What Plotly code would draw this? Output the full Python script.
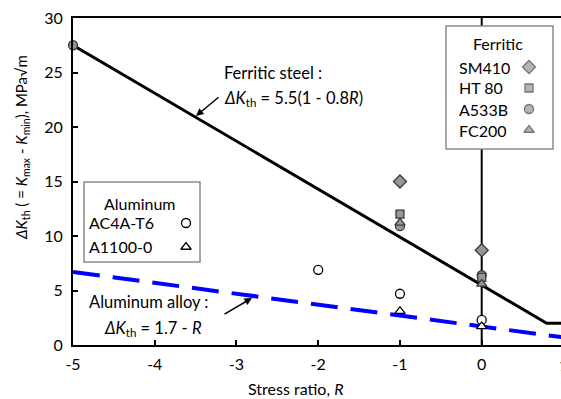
import plotly.graph_objects as go

# ---- data ----
sm410_R = [-1, 0]
sm410_K = [15.0, 8.7]
ht80_R = [-1, 0]
ht80_K = [12.0, 6.2]
a533b_R = [-5, -1, 0]
a533b_K = [27.5, 10.9, 6.4]
fc200_R = [-1, 0]
fc200_K = [11.2, 5.6]
ac4a_R = [-2, -1, 0]
ac4a_K = [6.9, 4.7, 2.3]
a1100_R = [-1, 0]
a1100_K = [3.1, 1.7]

# fitted lines (endpoints)
ferritic_line_R = [-5, 0.795, 1.0]
ferritic_line_K = [27.5, 2.0, 2.0]
alum_line_R = [-5, 1.0]
alum_line_K = [6.7, 0.7]

x_ticks = [-5, -4, -3, -2, -1, 0]
x_tick_labels = ["-5", "-4", "-3", "-2", "-1", "0"]
y_ticks = [0, 5, 10, 15, 20, 25, 30]

FONT = "Lato, sans-serif"
GRAY = "#969696"
EDGE = "#3a3a3a"

W, H = 561, 399
L, T, B = 73, 18, 54
X0, X1 = 73, 561
Y0, Y1 = 345, 18

def px_x(p):
    return (p - X0) / (X1 - X0)

def px_y(p):
    return (Y0 - p) / (Y0 - Y1)

fig = go.Figure()

fig.add_trace(go.Scatter(x=ferritic_line_R, y=ferritic_line_K, mode="lines",
                         line=dict(color="black", width=3), showlegend=False, hoverinfo="skip"))
fig.add_trace(go.Scatter(x=alum_line_R, y=alum_line_K, mode="lines",
                         line=dict(color="#0000ff", width=4, dash="27px,13px"),
                         showlegend=False, hoverinfo="skip"))

def pts(xs, ys, symbol, size, fill, edge, name):
    return go.Scatter(x=xs, y=ys, mode="markers", name=name, showlegend=False,
                      cliponaxis=False,
                      marker=dict(symbol=symbol, size=size, color=fill,
                                  line=dict(color=edge, width=1.3)))

fig.add_trace(pts(a533b_R, a533b_K, "circle", 9, GRAY, EDGE, "A533B"))
fig.add_trace(pts(ht80_R, ht80_K, "square", 8, GRAY, EDGE, "HT 80"))
fig.add_trace(pts(fc200_R, fc200_K, "triangle-up", 9, GRAY, EDGE, "FC200"))
fig.add_trace(pts(sm410_R, sm410_K, "diamond", 10, GRAY, EDGE, "SM410"))
fig.add_trace(pts(ac4a_R, ac4a_K, "circle", 9, "white", "black", "AC4A-T6"))
fig.add_trace(pts(a1100_R, a1100_K, "triangle-up", 9, "white", "black", "A1100-0"))

# legend symbols on an overlay pixel-coordinate axis
fig.add_trace(go.Scatter(
    x=[529, 529, 529, 529], y=[67, 88, 109, 130], mode="markers", xaxis="x2", yaxis="y2",
    showlegend=False, hoverinfo="skip", cliponaxis=False,
    marker=dict(symbol=["diamond", "square", "circle", "triangle-up"], size=[10, 8, 9, 9],
                color=GRAY, line=dict(color=EDGE, width=1.3))))
fig.add_trace(go.Scatter(
    x=[186, 186], y=[223, 247], mode="markers", xaxis="x2", yaxis="y2",
    showlegend=False, hoverinfo="skip", cliponaxis=False,
    marker=dict(symbol=["circle", "triangle-up"], size=9, color="white",
                line=dict(color="black", width=1.3))))

shapes = [
    dict(type="line", xref="x", yref="y", x0=0, x1=0, y0=0, y1=30,
         line=dict(color="black", width=2), layer="below"),
    dict(type="rect", xref="x2", yref="y2", x0=446, x1=553, y0=26, y1=149,
         line=dict(color="#8a8a8a", width=1.5), fillcolor="white", layer="below"),
    dict(type="rect", xref="x2", yref="y2", x0=84, x1=200, y0=182, y1=262,
         line=dict(color="#8a8a8a", width=1.5), fillcolor="white", layer="below"),
]

ann = []
def txt(x, y, s, anchor="left", size=16):
    ann.append(dict(x=px_x(x), y=px_y(y), xref="paper", yref="paper", text=s, showarrow=False,
                    xanchor=anchor, yanchor="middle", font=dict(family=FONT, size=size, color="black")))

txt(498, 43, "Ferritic", "center")
for yy, s in zip([67, 88, 109, 130], ["SM410", "HT 80", "A533B", "FC200"]):
    txt(457, yy, s)
txt(140, 204, "Aluminum", "center")
txt(87, 223, "AC4A-T6")
txt(87, 246, "A1100-0")

txt(222, 73, "Ferritic steel :", size=16.5)
txt(222, 98, "<i>ΔK</i><sub>th</sub> = 5.5(1 - 0.8<i>R</i>)", size=16.5)
txt(87, 302, "Aluminum alloy :", size=16.5)
txt(102, 328, "<i>ΔK</i><sub>th</sub> = 1.7 - <i>R</i>", size=16.5)

# arrows
ann.append(dict(x=196, y=116, ax=220, ay=96, xref="x2", yref="y2", axref="x2", ayref="y2",
                text="", showarrow=True, arrowhead=2, arrowsize=1, arrowwidth=1.5, arrowcolor="black"))
ann.append(dict(x=252, y=298, ax=223, ay=315, xref="x2", yref="y2", axref="x2", ayref="y2",
                text="", showarrow=True, arrowhead=2, arrowsize=1, arrowwidth=1.5, arrowcolor="black"))

# axis titles
txt(296, 388, "Stress ratio, <i>R</i>", "center", size=16)
ann.append(dict(x=px_x(22), y=px_y(148), xref="paper", yref="paper", text=
                "<i>ΔK</i><sub>th</sub> ( = <i>K</i><sub>max</sub> - <i>K</i><sub>min</sub>), MPa√m",
                showarrow=False, textangle=-90, xanchor="center", yanchor="middle",
                font=dict(family=FONT, size=15, color="black")))
# clipped tick label "1" at the right edge
txt(563.5, 364, "1", "center", size=16)

fig.update_layout(
    width=W, height=H,
    margin=dict(l=L, r=0, t=T, b=B, pad=0),
    paper_bgcolor="white", plot_bgcolor="white",
    font=dict(family=FONT, size=16, color="black"),
    xaxis=dict(range=[-5, 0.97], tickvals=x_ticks, ticktext=x_tick_labels,
               ticks="inside", ticklen=5, tickwidth=1.5,
               tickcolor="black", showline=True, linecolor="black", linewidth=2, mirror=True,
               showgrid=False, zeroline=False, tickfont=dict(family=FONT, size=16),
               ticklabelstandoff=4),
    yaxis=dict(range=[0, 30], tickvals=y_ticks, ticks="inside", ticklen=5, tickwidth=1.5,
               tickcolor="black", showline=True, linecolor="black", linewidth=2,
               showgrid=False, zeroline=False, tickfont=dict(family=FONT, size=16),
               ticklabelstandoff=5),
    xaxis2=dict(overlaying="x", range=[X0, X1], visible=False, fixedrange=True),
    yaxis2=dict(overlaying="y", range=[Y0, Y1], visible=False, fixedrange=True),
    shapes=shapes, annotations=ann, showlegend=False,
)

fig.write_html("out.html", config={"displayModeBar": False},
               post_script="document.body.style.margin='0';")
